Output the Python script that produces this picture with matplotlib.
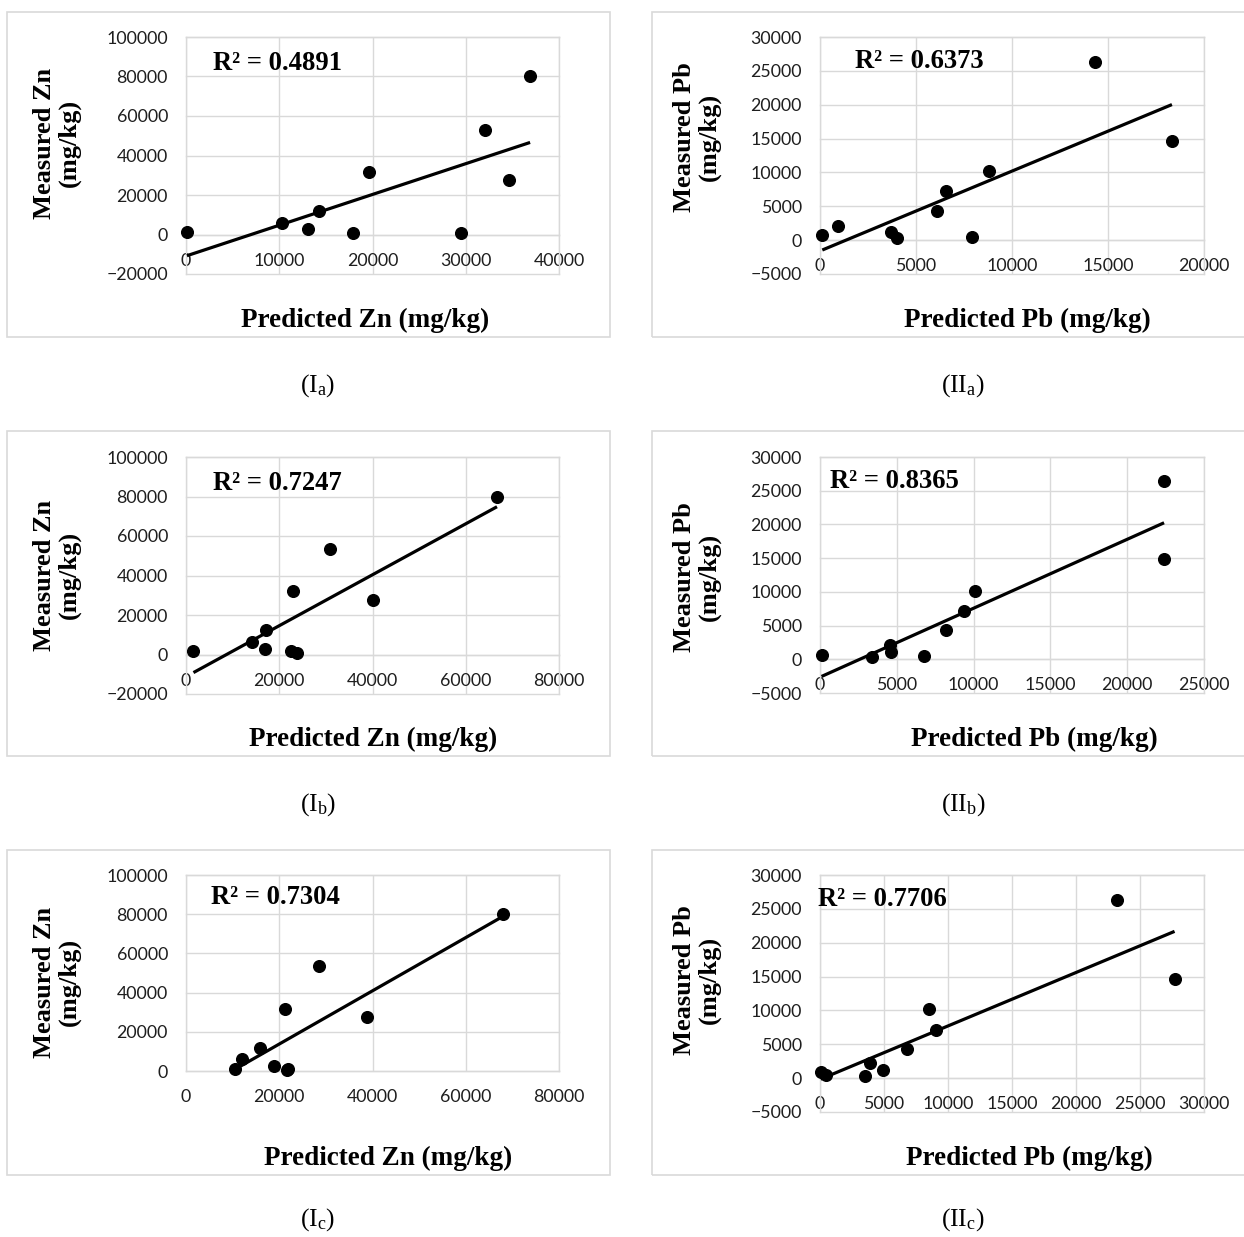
import numpy as np
import matplotlib
matplotlib.use("Agg")
import matplotlib.pyplot as plt
from matplotlib.patches import Rectangle

# ---------------- data ----------------
# (Ia) Zn, model a
zn_a_pred = [100, 10250, 13100, 14250, 17900, 19600, 29500, 32100, 34600, 36900]
zn_a_meas = [1500, 5900, 2700, 11800, 1000, 31600, 800, 53000, 27400, 80000]
# (IIa) Pb, model a
pb_a_pred = [120, 940, 3720, 4000, 6100, 6550, 7900, 8800, 14340, 18330]
pb_a_meas = [740, 2100, 1180, 300, 4300, 7200, 500, 10200, 26300, 14700]
# (Ib) Zn, model b
zn_b_pred = [1600, 14100, 17100, 16900, 22600, 23900, 23000, 30900, 40100, 66700]
zn_b_meas = [2000, 6200, 12200, 3000, 1700, 1000, 32000, 53300, 27800, 80000]
# (IIb) Pb, model b
pb_b_pred = [100, 3400, 4550, 4650, 6800, 8200, 9400, 10100, 22400, 22400]
pb_b_meas = [700, 300, 2100, 1100, 450, 4300, 7200, 10200, 26400, 14800]
# (Ic) Zn, model c
zn_c_pred = [10500, 12100, 15900, 18800, 21700, 21900, 21200, 28500, 38900, 68000]
zn_c_meas = [1200, 6100, 11500, 2700, 500, 1000, 31600, 53500, 27500, 80000]
# (IIc) Pb, model c
pb_c_pred = [50, 470, 3500, 3900, 4950, 6800, 8550, 9050, 23200, 27700]
pb_c_meas = [900, 500, 350, 2200, 1200, 4300, 10200, 7100, 26300, 14700]

r2_labels = ["R\u00b2 = 0.4891", "R\u00b2 = 0.6373", "R\u00b2 = 0.7247",
             "R\u00b2 = 0.8365", "R\u00b2 = 0.7304", "R\u00b2 = 0.7706"]
captions = [r"(I$_{\rm a}$)", r"(II$_{\rm a}$)", r"(I$_{\rm b}$)",
            r"(II$_{\rm b}$)", r"(I$_{\rm c}$)", r"(II$_{\rm c}$)"]
xlabels = ["Predicted Zn (mg/kg)", "Predicted Pb (mg/kg)"] * 3
ylabels = ["Measured Zn\n(mg/kg)", "Measured Pb\n(mg/kg)"] * 3

zn_x_ticks = [[0, 10000, 20000, 30000, 40000], [0, 20000, 40000, 60000, 80000],
              [0, 20000, 40000, 60000, 80000]]
zn_y_ticks = [[-20000, 0, 20000, 40000, 60000, 80000, 100000],
              [-20000, 0, 20000, 40000, 60000, 80000, 100000],
              [0, 20000, 40000, 60000, 80000, 100000]]
pb_x_ticks = [[0, 5000, 10000, 15000, 20000], [0, 5000, 10000, 15000, 20000, 25000],
              [0, 5000, 10000, 15000, 20000, 25000, 30000]]
pb_y_ticks = [[-5000, 0, 5000, 10000, 15000, 20000, 25000, 30000]] * 3

# ---------------- style ----------------
plt.rcParams["mathtext.fontset"] = "custom"
plt.rcParams["mathtext.rm"] = "Liberation Serif"
plt.rcParams["mathtext.it"] = "Liberation Serif:italic"
SERIF = "Liberation Serif"
TICKFONT = "Lato"
GRID = "#d9d9d9"

W, H = 1244, 1237
fig = plt.figure(figsize=(W / 100, H / 100), dpi=100)


def fx(px):
    return px / W


def fy(py):
    return 1 - py / H


# panel layout in pixels
row_box = [(12, 337), (431, 756), (850, 1175)]
col_box = [(7, 610), (652, 1250)]
axes_px = {
    (0, 0): (186, 559, 37, 274), (0, 1): (820, 1204, 37, 274),
    (1, 0): (186, 559, 457, 694), (1, 1): (820, 1204, 457, 693),
    (2, 0): (186, 559, 875, 1071), (2, 1): (820, 1204, 875, 1112),
}
xlabel_pos = {(0, 0): (365, 320), (0, 1): (1027, 320),
              (1, 0): (373, 739), (1, 1): (1034, 739),
              (2, 0): (388, 1158), (2, 1): (1029, 1158)}
ylabel_pos = {(0, 0): (57, 143), (0, 1): (697, 137),
              (1, 0): (57, 575), (1, 1): (697, 577),
              (2, 0): (57, 982), (2, 1): (697, 980)}
r2_pos = {(0, 0): (213, 64), (0, 1): (855, 61),
          (1, 0): (213, 483), (1, 1): (830, 481),
          (2, 0): (211, 898), (2, 1): (818, 899)}
caption_pos = {(0, 0): (318, 386), (0, 1): (963, 386),
               (1, 0): (318, 805), (1, 1): (963, 805),
               (2, 0): (318, 1220), (2, 1): (963, 1220)}

datasets = {
    (0, 0): (zn_a_pred, zn_a_meas, zn_x_ticks[0], zn_y_ticks[0]),
    (0, 1): (pb_a_pred, pb_a_meas, pb_x_ticks[0], pb_y_ticks[0]),
    (1, 0): (zn_b_pred, zn_b_meas, zn_x_ticks[1], zn_y_ticks[1]),
    (1, 1): (pb_b_pred, pb_b_meas, pb_x_ticks[1], pb_y_ticks[1]),
    (2, 0): (zn_c_pred, zn_c_meas, zn_x_ticks[2], zn_y_ticks[2]),
    (2, 1): (pb_c_pred, pb_c_meas, pb_x_ticks[2], pb_y_ticks[2]),
}

# chart-area borders
for r, (t, b) in enumerate(row_box):
    for c, (l, rr) in enumerate(col_box):
        fig.patches.append(Rectangle((fx(l), fy(b)), fx(rr) - fx(l), fy(t) - fy(b),
                                     transform=fig.transFigure, fill=False,
                                     edgecolor=GRID, linewidth=1.2, zorder=0))

k = 0
for r in range(3):
    for c in range(2):
        x0, x1, y0, y1 = axes_px[(r, c)]
        ax = fig.add_axes([fx(x0), fy(y1), fx(x1) - fx(x0), fy(y0) - fy(y1)])
        xs, ys, xt, yt = datasets[(r, c)]
        xs = np.asarray(xs, float)
        ys = np.asarray(ys, float)

        ax.set_xlim(xt[0], xt[-1])
        ax.set_ylim(yt[0], yt[-1])
        ax.set_xticks(xt)
        ax.set_yticks(yt)
        ax.grid(True, color=GRID, linewidth=1.0)
        for gl in ax.get_xgridlines() + ax.get_ygridlines():
            gl.set_clip_on(False)
        ax.set_axisbelow(True)
        for s in ["top", "right", "left"]:
            ax.spines[s].set_color(GRID)
            ax.spines[s].set_linewidth(1.0)
        ax.spines["bottom"].set_position(("data", 0))
        ax.spines["bottom"].set_color(GRID)
        ax.spines["bottom"].set_linewidth(1.0)
        ax.tick_params(axis="both", length=0, labelsize=12.8)
        ax.tick_params(axis="x", pad=13)
        ax.tick_params(axis="y", pad=13)
        for lab in ax.get_xticklabels() + ax.get_yticklabels():
            lab.set_fontfamily(TICKFONT)
            lab.set_color("#1e1e1e")

        # trend line (least squares fit) over data x-range
        m, b0 = np.polyfit(xs, ys, 1)
        xl = np.array([xs.min(), xs.max()])
        ax.plot(xl, m * xl + b0, color="black", linewidth=2.3, zorder=3,
                solid_capstyle="butt")
        ax.plot(xs, ys, "o", color="black", markersize=8.4, zorder=4,
                clip_on=False)

        # texts
        px, py = xlabel_pos[(r, c)]
        fig.text(fx(px), fy(py), xlabels[k], ha="center", va="center",
                 fontfamily=SERIF, fontweight="bold", fontsize=19.5)
        px, py = ylabel_pos[(r, c)]
        fig.text(fx(px), fy(py), ylabels[k], ha="center", va="center",
                 rotation=90, multialignment="center", linespacing=1.1,
                 fontfamily=SERIF, fontweight="bold", fontsize=19)
        px, py = r2_pos[(r, c)]
        fig.text(fx(px), fy(py), r2_labels[k], ha="left", va="center",
                 fontfamily=SERIF, fontweight="bold", fontsize=19.2)
        px, py = caption_pos[(r, c)]
        fig.text(fx(px), fy(py), captions[k], ha="center", va="center",
                 fontfamily=SERIF, fontsize=18.5)
        k += 1

fig.savefig("out.png", dpi=100, facecolor="white")
